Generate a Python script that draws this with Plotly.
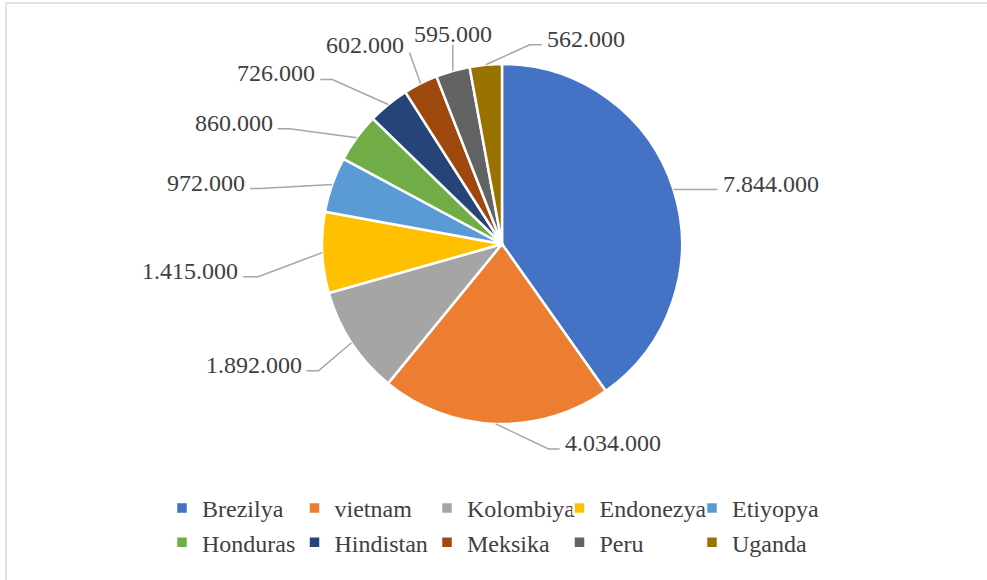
import math
import plotly.graph_objects as go

# ---------------- data ----------------
countries = ["Brezilya", "vietnam", "Kolombiya", "Endonezya", "Etiyopya",
             "Honduras", "Hindistan", "Meksika", "Peru", "Uganda"]
production = [7844000, 4034000, 1892000, 1415000, 972000,
              860000, 726000, 602000, 595000, 562000]
colors = ["#4472C4", "#ED7D31", "#A5A5A5", "#FFC000", "#5B9BD5",
          "#70AD47", "#264478", "#9E480E", "#636363", "#997300"]

# ---------------- layout / style constants ----------------
W, H = 987, 580
ML, MR, MT, MB = 143, 144, 0, 0
PW, PH = W - ML - MR, H - MT - MB
CX, CY, R = 502, 244, 180          # pie centre / radius in pixels
FONT = "Liberation Serif"
TXT = "#404040"
LINE = "#A6A6A6"

# label leader offsets relative to slice edge: (dx, dy, elbow length, side)
label_layout = [(44, 0, 12, "right"), (64, 25, 11, "right"), (-45, 28, 12, "left"),
                (-79, 24, 15, "left"), (-82, 4, 10, "left"), (-79, -9, 12, "left"),
                (-68, -25, 12, "left"), (-11, -31, 0, "lefttop"), (0, -26, 0, "top"),
                (56, -20, 12, "right")]


def px2paper(x, y):
    return (x - ML) / PW, 1 - (y - MT) / PH


def fmt(v):
    return f"{v:,}".replace(",", ".")


dx0, dy1 = px2paper(CX - R, CY - R)
dx1, dy0 = px2paper(CX + R, CY + R)

fig = go.Figure(go.Pie(
    labels=countries, values=production, sort=False, direction="clockwise",
    rotation=0, textinfo="none", hoverinfo="label+value",
    marker=dict(colors=colors, line=dict(color="white", width=2.5)),
    domain=dict(x=[dx0, dx1], y=[dy0, dy1]),
))

total = sum(production)
shapes, annotations = [], []
cum = 0.0
for v, (ldx, ldy, elb, side) in zip(production, label_layout):
    mid = (cum + v / 2) / total * 2 * math.pi
    cum += v
    ex, ey = CX + R * math.sin(mid), CY - R * math.cos(mid)
    endx, endy = ex + ldx, ey + ldy
    if side == "right":
        elbx = endx - elb
    elif side == "left":
        elbx = endx + elb
    else:
        elbx = endx
    pts = [px2paper(ex, ey), px2paper(elbx, endy), px2paper(endx, endy)]
    path = "M{},{} L{},{} L{},{}".format(*[c for p in pts for c in p])
    shapes.append(dict(type="path", xref="paper", yref="paper", path=path,
                       line=dict(color=LINE, width=1.5)))
    if side == "right":
        tx, ty, xa = endx + 3, endy - 6, "left"
    elif side == "left":
        tx, ty, xa = endx - 3, endy - 6, "right"
    elif side == "lefttop":
        tx, ty, xa = endx - 4, endy - 7, "right"
    else:
        tx, ty, xa = endx, endy - 11, "center"
    px_, py_ = px2paper(tx, ty)
    annotations.append(dict(x=px_, y=py_, xref="paper", yref="paper", text=fmt(v),
                            showarrow=False, xanchor=xa, yanchor="middle",
                            font=dict(family=FONT, size=24, color=TXT)))

# chart frame
fx0, fy0 = px2paper(6, 3)
fx1, fy1 = px2paper(W + 20, H + 20)
shapes.append(dict(type="rect", xref="paper", yref="paper", x0=fx0, y0=fy1, x1=fx1, y1=fy0,
                   line=dict(color="#D9D9D9", width=1.5), fillcolor="rgba(0,0,0,0)"))

lgx, lgy = px2paper(162, 486)
fig.update_layout(
    width=W, height=H, margin=dict(l=ML, r=MR, t=MT, b=MB),
    paper_bgcolor="white", plot_bgcolor="white",
    font=dict(family=FONT, color=TXT),
    shapes=shapes, annotations=annotations,
    legend=dict(orientation="h", x=lgx, y=lgy, xanchor="left", yanchor="top",
                entrywidth=87.5, entrywidthmode="pixels",
                font=dict(family=FONT, size=24, color=TXT),
                bgcolor="rgba(0,0,0,0)", traceorder="normal"),
    showlegend=True,
)

fig.write_html("out.html")
